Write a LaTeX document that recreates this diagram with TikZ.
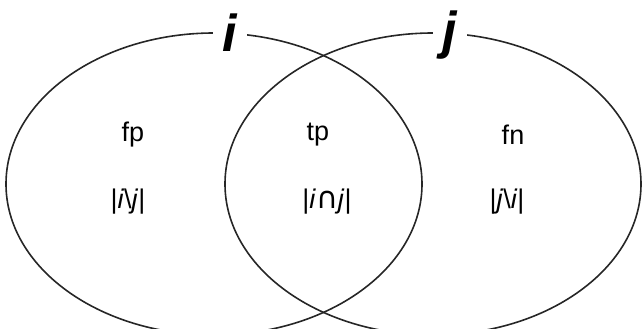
\documentclass[tikz,border=0pt]{standalone}
\usepackage{fontspec}
\setmainfont{Liberation Sans}
\newfontfamily\symfont{DejaVu Sans}
\usetikzlibrary{shapes.geometric}

\tikzset{
  setshape/.style={ellipse, draw, draw=black!85, line width=1.6pt, minimum width=416pt, minimum height=302pt, inner sep=0pt},
  setname/.style={fill=white, inner xsep=10pt, inner ysep=4pt, font=\fontsize{52}{52}\selectfont\bfseries\itshape},
  region/.style={font=\fontsize{27}{27}\selectfont},
}

\begin{document}
\begin{tikzpicture}[x=1pt, y=-1pt]
  \useasboundingbox (0,0) rectangle (643,329);
  % the two sets
  \node[setshape] (seti) at (214,184) {};
  \node[setshape] (setj) at (433,184) {};
  \node[setname] (namei) at (230,33) {i};
  \node[setname] (namej) at (450,35) {j};
  % regions
  \node[region] (fp) at (133,135) {fp};
  \node[region] (tp) at (318,135) {tp};
  \node[region] (fn) at (513,135) {fn};
  \node[region] (cnti) at (128,202) {|\textit{i}\textbackslash\textit{j}|};
  \node[region] (cntij) at (327,202) {|\textit{i}{\symfont\fontsize{30}{30}\selectfont ∩}\textit{j}|};
  \node[region] (cntj) at (507,202) {|\textit{j}\textbackslash\textit{i}|};
\end{tikzpicture}
\end{document}
